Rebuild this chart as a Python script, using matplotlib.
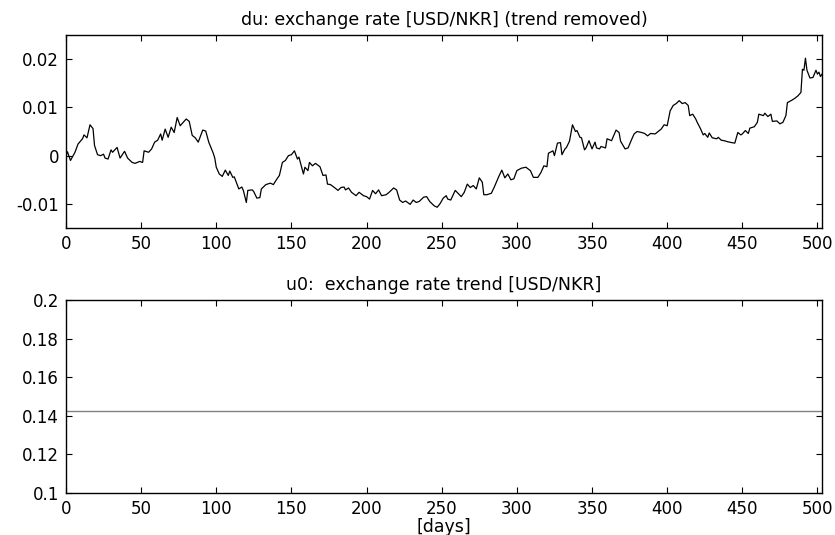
import matplotlib
matplotlib.use('Agg')
import matplotlib.pyplot as plt

# values
days = [0, 1, 3, 6, 8, 11, 12, 14, 16, 18, 19, 21, 23, 25, 26, 28, 30, 31, 34, 36,
        39, 41, 44, 46, 49, 51, 52, 55, 57, 59, 61, 63, 64, 66, 68, 70, 72, 74, 76, 78,
        80, 82, 84, 86, 88, 91, 93, 95, 98, 99, 100, 102, 104, 106, 108, 109, 111, 112, 115, 117,
        118, 120, 121, 124, 125, 127, 129, 130, 133, 136, 138, 140, 142, 144, 146, 148, 150, 152, 154, 155,
        158, 159, 161, 162, 164, 166, 169, 171, 173, 174, 176, 179, 181, 183, 185, 186, 188, 190, 193, 195,
        198, 200, 202, 204, 206, 208, 210, 213, 215, 218, 220, 222, 224, 226, 229, 231, 233, 235, 238, 240,
        242, 245, 247, 249, 251, 253, 254, 256, 259, 263, 265, 267, 269, 271, 273, 275, 277, 278, 280, 283,
        285, 288, 290, 292, 294, 296, 298, 300, 303, 306, 309, 311, 314, 316, 318, 320, 321, 324, 325, 327,
        329, 330, 332, 333, 335, 337, 339, 340, 342, 343, 345, 346, 348, 350, 352, 353, 355, 356, 359, 360,
        363, 366, 368, 369, 372, 374, 376, 378, 380, 383, 385, 387, 389, 392, 394, 396, 398, 400, 402, 404,
        406, 408, 410, 412, 414, 415, 417, 419, 420, 422, 424, 425, 427, 428, 430, 433, 434, 436, 438, 440,
        443, 445, 447, 449, 450, 452, 454, 455, 458, 460, 461, 464, 465, 467, 469, 470, 473, 475, 477, 479,
        480, 483, 485, 487, 489, 490, 491, 492, 493, 494, 495, 497, 499, 500, 501, 502, 503]
du = [0.0000, 0.0008, -0.0010, 0.0007, 0.0024, 0.0035, 0.0043, 0.0037, 0.0064, 0.0056,
      0.0021, 0.0002, 0.0000, 0.0003, -0.0005, -0.0007, 0.0012, 0.0007, 0.0017, -0.0005,
      0.0009, -0.0005, -0.0014, -0.0016, -0.0012, -0.0014, 0.0010, 0.0007, 0.0014, 0.0028,
      0.0032, 0.0045, 0.0032, 0.0055, 0.0038, 0.0059, 0.0048, 0.0079, 0.0062, 0.0069,
      0.0076, 0.0071, 0.0042, 0.0037, 0.0028, 0.0053, 0.0051, 0.0028, 0.0005, -0.0005,
      -0.0024, -0.0038, -0.0043, -0.0030, -0.0041, -0.0032, -0.0045, -0.0044, -0.0069, -0.0065,
      -0.0072, -0.0097, -0.0072, -0.0071, -0.0075, -0.0088, -0.0087, -0.0069, -0.0060, -0.0057,
      -0.0060, -0.0050, -0.0041, -0.0014, -0.0010, 0.0000, 0.0002, 0.0010, -0.0007, -0.0003,
      -0.0038, -0.0024, -0.0031, -0.0014, -0.0021, -0.0016, -0.0023, -0.0041, -0.0040, -0.0059,
      -0.0060, -0.0067, -0.0072, -0.0066, -0.0065, -0.0071, -0.0067, -0.0076, -0.0083, -0.0076,
      -0.0083, -0.0085, -0.0090, -0.0072, -0.0079, -0.0071, -0.0083, -0.0081, -0.0076, -0.0067,
      -0.0071, -0.0092, -0.0097, -0.0094, -0.0101, -0.0092, -0.0097, -0.0095, -0.0086, -0.0085,
      -0.0095, -0.0104, -0.0107, -0.0099, -0.0088, -0.0083, -0.0090, -0.0092, -0.0072, -0.0085,
      -0.0076, -0.0059, -0.0066, -0.0062, -0.0069, -0.0046, -0.0055, -0.0081, -0.0081, -0.0078,
      -0.0065, -0.0043, -0.0030, -0.0046, -0.0038, -0.0050, -0.0048, -0.0031, -0.0026, -0.0024,
      -0.0031, -0.0045, -0.0045, -0.0035, -0.0021, -0.0023, 0.0005, 0.0010, 0.0000, 0.0026,
      0.0027, 0.0002, 0.0014, 0.0017, 0.0030, 0.0064, 0.0050, 0.0052, 0.0038, 0.0037,
      0.0012, 0.0016, 0.0031, 0.0014, 0.0028, 0.0016, 0.0014, 0.0019, 0.0016, 0.0035,
      0.0031, 0.0053, 0.0048, 0.0030, 0.0014, 0.0016, 0.0031, 0.0045, 0.0050, 0.0048,
      0.0046, 0.0041, 0.0046, 0.0045, 0.0050, 0.0055, 0.0064, 0.0062, 0.0093, 0.0104,
      0.0108, 0.0114, 0.0108, 0.0110, 0.0104, 0.0083, 0.0086, 0.0076, 0.0069, 0.0057,
      0.0043, 0.0046, 0.0038, 0.0047, 0.0037, 0.0035, 0.0038, 0.0032, 0.0031, 0.0029,
      0.0027, 0.0026, 0.0048, 0.0043, 0.0045, 0.0052, 0.0046, 0.0057, 0.0060, 0.0069,
      0.0086, 0.0083, 0.0088, 0.0081, 0.0086, 0.0071, 0.0072, 0.0066, 0.0069, 0.0083,
      0.0110, 0.0115, 0.0119, 0.0124, 0.0131, 0.0179, 0.0177, 0.0202, 0.0177, 0.0169,
      0.0161, 0.0162, 0.0177, 0.0169, 0.0173, 0.0164, 0.0169]
u0 = 0.1425  # constant trend value

x_ticks = [0, 50, 100, 150, 200, 250, 300, 350, 400, 450, 500]
du_ticks = [-0.01, 0, 0.01, 0.02]
du_labels = ['-0.01', '0', '0.01', '0.02']
u0_ticks = [0.1, 0.12, 0.14, 0.16, 0.18, 0.2]
u0_labels = ['0.1', '0.12', '0.14', '0.16', '0.18', '0.2']

plt.rcParams['font.family'] = ['DejaVu Sans']
plt.rcParams['font.size'] = 12
plt.rcParams['axes.unicode_minus'] = False


def style_axes(ax):
    # matlab-like box with inward ticks on all four sides.
    ax.tick_params(direction='in', top=True, right=True, length=4, width=0.8, pad=5)
    for side in ax.spines.values():
        side.set_linewidth(1.0)


figure = plt.figure(figsize=(8.35, 5.35), dpi=100)
top = figure.add_axes([0.079, 0.5738, 0.9054, 0.3607])
bottom = figure.add_axes([0.079, 0.0785, 0.9054, 0.3607])

# top: exchange rate with trend removed.
top.plot(days, du, color='black', linewidth=0.9)
top.set_xlim(0, 503)
top.set_ylim(-0.015, 0.025)
top.set_xticks(x_ticks)
top.set_yticks(du_ticks)
top.set_yticklabels(du_labels)
top.set_title('du: exchange rate [USD/NKR] (trend removed)', fontsize=12.5, pad=7)
style_axes(top)

# bottom: the (constant) trend.
bottom.plot(days, [u0] * len(days), color='#808080', linewidth=1.0)
bottom.set_xlim(0, 503)
bottom.set_ylim(0.1, 0.2)
bottom.set_xticks(x_ticks)
bottom.set_yticks(u0_ticks)
bottom.set_yticklabels(u0_labels)
bottom.set_title('u0:  exchange rate trend [USD/NKR]', fontsize=12.5, pad=7)
bottom.set_xlabel('[days]', fontsize=12.5, labelpad=0)
style_axes(bottom)

figure.savefig('out.png', dpi=100)
